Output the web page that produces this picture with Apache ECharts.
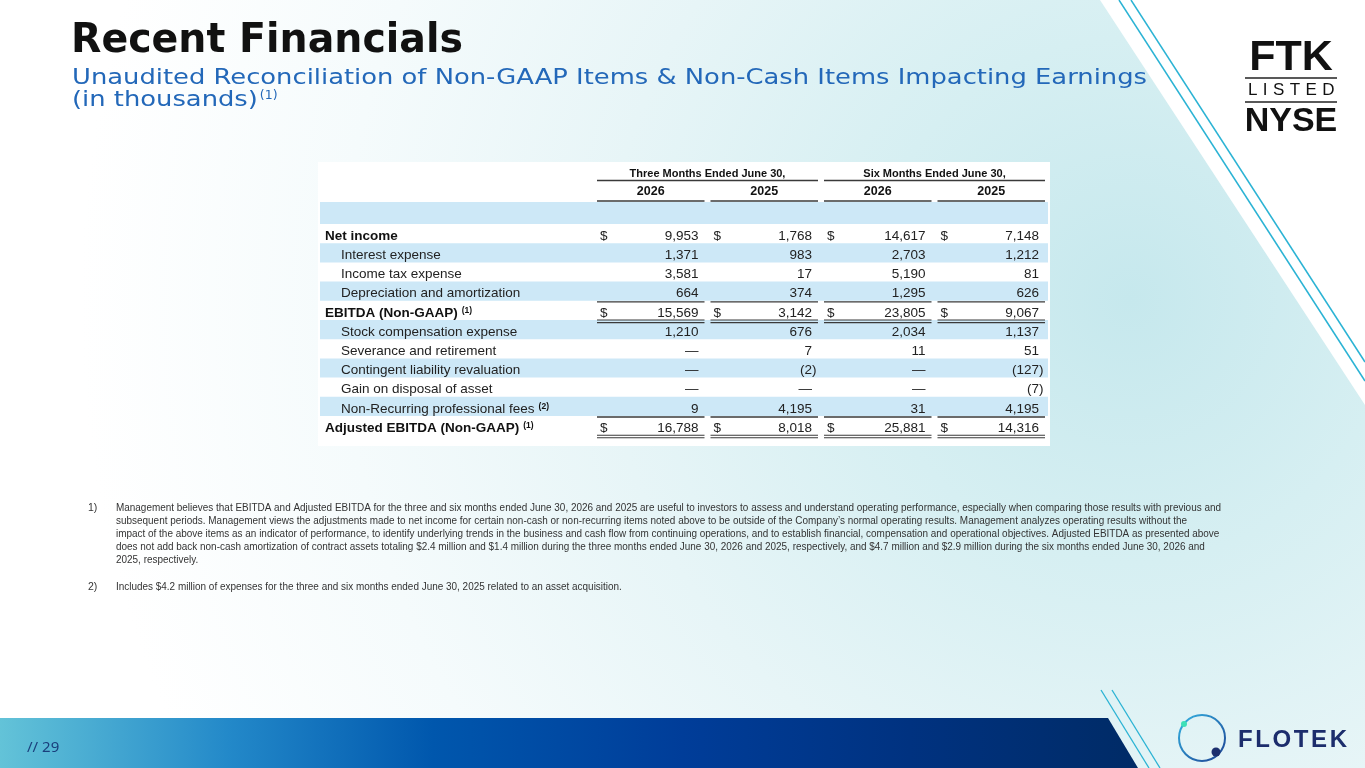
<!DOCTYPE html>
<html>
<head>
<meta charset="UTF-8">
<title>Recent Financials</title>
<script src="https://cdn.jsdelivr.net/npm/echarts@6/dist/echarts.min.js"></script>
<style>
html,body{margin:0;padding:0;background:#fff;overflow:hidden;}
#main{width:1365px;height:768px;}
</style>
</head>
<body>
<div id="main"></div>
<script>
// table rows and values (in thousands)
var rowNames = ['Net income', 'Interest expense', 'Income tax expense', 'Depreciation and amortization',
	'EBITDA (Non-GAAP)', 'Stock compensation expense', 'Severance and retirement',
	'Contingent liability revaluation', 'Gain on disposal of asset', 'Non-Recurring professional fees',
	'Adjusted EBITDA (Non-GAAP)'];
var rowNotes = ['', '', '', '', '(1)', '', '', '', '', '(2)', '(1)'];
var periods = ['Three Months Ended June 30,', 'Six Months Ended June 30,'];
var columns = ['2026', '2025', '2026', '2025'];
var threeMonths2026 = [9953, 1371, 3581, 664, 15569, 1210, null, null, null, 9, 16788];
var threeMonths2025 = [1768, 983, 17, 374, 3142, 676, 7, -2, null, 4195, 8018];
var sixMonths2026 = [14617, 2703, 5190, 1295, 23805, 2034, 11, null, null, 31, 25881];
var sixMonths2025 = [7148, 1212, 81, 626, 9067, 1137, 51, -127, -7, 4195, 14316];
var totalRows = [0, 4, 10];
var singleRuleRows = [3, 9];
var doubleRuleRows = [4, 10];

var notes1 = [
	'Management believes that EBITDA and Adjusted EBITDA for the three and six months ended June 30, 2026 and 2025 are useful to investors to assess and understand operating performance, especially when comparing those results with previous and',
	'subsequent periods. Management views the adjustments made to net income for certain non-cash or non-recurring items noted above to be outside of the Company\u2019s normal operating results. Management analyzes operating results without the',
	'impact of the above items as an indicator of performance, to identify underlying trends in the business and cash flow from continuing operations, and to establish financial, compensation and operational objectives. Adjusted EBITDA as presented above',
	'does not add back non-cash amortization of contract assets totaling $2.4 million and $1.4 million during the three months ended June 30, 2026 and 2025, respectively, and $4.7 million and $2.9 million during the six months ended June 30, 2026 and',
	'2025, respectively.'
];
var notes2 = 'Includes $4.2 million of expenses for the three and six months ended June 30, 2025 related to an asset acquisition.';
var title = 'Recent Financials';
var subtitle = 'Unaudited Reconciliation of Non-GAAP Items & Non-Cash Items Impacting Earnings';

var valueCols = [threeMonths2026, threeMonths2025, sixMonths2026, sixMonths2025];

// layout
var tableLeft = 320, tableRight = 1048, colStart = 594, gridTop = 224, rowPitch = 19.2;
var gridH = rowNames.length * rowPitch;
var ruleColor = '#3a3a3a';
var band = '#cde8f7';
var tableFont = '"Liberation Sans", Arial, sans-serif';
var headFam = '"DejaVu Sans", sans-serif';
var noteFam = '"Liberation Sans", sans-serif';

var ctx = document.createElement('canvas').getContext('2d');
function textW(text, font) {
	ctx.font = font;
	return ctx.measureText(text).width;
}
// text squeezed or stretched to a given width
function fitted(text, x, y, font, width, color) {
	return {type: 'text', z: 5, x: x, y: y, scaleX: width / textW(text, font),
		style: {text: text, x: 0, y: 0, font: font, fill: color, verticalAlign: 'middle'}};
}
function spaced(text, x, y, font, gap, color) {
	var out = [];
	for (var i = 0; i < text.length; i++) {
		out.push({type: 'text', z: 5, style: {text: text[i], x: x, y: y, font: font, fill: color, verticalAlign: 'middle'}});
		x += textW(text[i], font) + gap;
	}
	return out;
}

var titleFont = 'bold 41px ' + headFam;
var subFont = '21px ' + headFam;
var subScale = 1075 / textW(subtitle, subFont);
var thouW = textW('(in thousands)', subFont) * subScale;
var noteFont = '10.5px ' + noteFam;
var noteScale = 1105 / textW(notes1[0], noteFont);

var fmt = function(v) {
	if (v === null) return '\u2014';
	var s = Math.abs(v).toLocaleString('en-US');
	return v < 0 ? '(' + s + ')' : s;
};

var decor = [
	{type: 'rect', z: -100, shape: {x: 0, y: 0, width: 1365, height: 768},
		style: {fill: {type: 'radial', x: 1130, y: 300, r: 1050, global: true,
			colorStops: [{offset: 0, color: '#c6e8ed'}, {offset: 0.25, color: '#d6eff2'}, {offset: 0.5, color: '#e7f5f7'},
				{offset: 0.75, color: '#f5fbfc'}, {offset: 1, color: '#ffffff'}]}}},
	{type: 'polygon', z: -99, shape: {points: [[1100, 0], [1365, 0], [1365, 405]]}, style: {fill: '#ffffff'}},
	{type: 'line', z: -98, shape: {x1: 1119, y1: 0, x2: 1365, y2: 381}, style: {stroke: '#2bb3d4', lineWidth: 1.5}},
	{type: 'line', z: -98, shape: {x1: 1131, y1: 0, x2: 1365, y2: 362}, style: {stroke: '#2bb3d4', lineWidth: 1.5}},
	// footer bar
	{type: 'polygon', z: -97, shape: {points: [[0, 718], [1108, 718], [1138, 768], [0, 768]]},
		style: {fill: {type: 'linear', x: 0, y: 0, x2: 1, y2: 0,
			colorStops: [{offset: 0, color: '#63c3d8'}, {offset: 0.2, color: '#2389c9'}, {offset: 0.38, color: '#0057ad'},
				{offset: 0.6, color: '#003d99'}, {offset: 0.8, color: '#003280'}, {offset: 1, color: '#002b66'}]}}},
	{type: 'line', z: -96, shape: {x1: 1101, y1: 690, x2: 1149, y2: 768}, style: {stroke: '#2bb3d4', lineWidth: 1.3}},
	{type: 'line', z: -96, shape: {x1: 1112, y1: 690, x2: 1160, y2: 768}, style: {stroke: '#2bb3d4', lineWidth: 1.3}},
	{type: 'text', z: 5, style: {text: '// 29', x: 27, y: 748, font: '15px "Noto Sans", sans-serif', fill: '#1a3f7c', verticalAlign: 'middle'}},
	// FLOTEK logo
	{type: 'circle', z: 5, shape: {cx: 1202, cy: 738, r: 23},
		style: {fill: 'none', lineWidth: 2, stroke: {type: 'linear', x: 0, y: 0, x2: 1, y2: 1,
			colorStops: [{offset: 0, color: '#36b9e6'}, {offset: 1, color: '#1b3c8f'}]}}},
	{type: 'circle', z: 6, shape: {cx: 1184, cy: 724, r: 3}, style: {fill: '#3fe0b8'}},
	{type: 'circle', z: 6, shape: {cx: 1216, cy: 752, r: 4.5}, style: {fill: '#1c2f6e'}},
	// FTK listed NYSE
	{type: 'text', z: 5, style: {text: 'FTK', x: 1291, y: 58, font: 'bold 43px ' + tableFont, fill: '#111', align: 'center', verticalAlign: 'middle'}},
	{type: 'line', z: 5, shape: {x1: 1245, y1: 78, x2: 1337, y2: 78}, style: {stroke: '#222', lineWidth: 1.5}},
	{type: 'line', z: 5, shape: {x1: 1245, y1: 102, x2: 1337, y2: 102}, style: {stroke: '#222', lineWidth: 1.5}},
	{type: 'text', z: 5, style: {text: 'NYSE', x: 1291, y: 122, font: 'bold 34px ' + tableFont, fill: '#111', align: 'center', verticalAlign: 'middle'}},
	// titles
	fitted(title, 71, 41, titleFont, 392, '#111'),
	fitted(subtitle, 72, 79, subFont, 1075, '#2368b9'),
	fitted('(in thousands)', 72, 101, subFont, thouW, '#2368b9'),
	{type: 'text', z: 5, style: {text: '(1)', x: 74 + thouW, y: 96, font: '12.5px ' + headFam, fill: '#2368b9', verticalAlign: 'middle'}},
	// table background and blank shaded row
	{type: 'rect', z: -90, shape: {x: tableLeft - 2, y: 162, width: tableRight - tableLeft + 4, height: 284}, style: {fill: '#ffffff'}},
	{type: 'rect', z: -89, shape: {x: tableLeft, y: gridTop - 22, width: tableRight - tableLeft, height: 22}, style: {fill: band}}
];
decor = decor.concat(spaced('LISTED', 1248, 90, '17px ' + tableFont, 5.4, '#111'));
decor = decor.concat(spaced('FLOTEK', 1238, 740, 'bold 24px ' + tableFont, 2.6, '#1c2d6c'));

// footnotes
decor.push({type: 'text', z: 5, style: {text: '1)', x: 88, y: 508, font: noteFont, fill: '#333', verticalAlign: 'middle'}});
for (var i = 0; i < notes1.length; i++) {
	decor.push(fitted(notes1[i], 116, 508 + i * 13, noteFont, textW(notes1[i], noteFont) * noteScale, '#333'));
}
decor.push({type: 'text', z: 5, style: {text: '2)', x: 88, y: 587, font: noteFont, fill: '#333', verticalAlign: 'middle'}});
decor.push(fitted(notes2, 116, 587, noteFont, textW(notes2, noteFont) * noteScale, '#333'));

var cells = [];
for (var c = 0; c < columns.length; c++) {
	for (var r = 0; r < rowNames.length; r++) {
		cells.push([c, r]);
	}
}

function renderCell(params, api) {
	var c = api.value(0), r = api.value(1);
	var v = valueCols[c][r];
	var pt = api.coord([c, r]);
	var sz = api.size([1, 1]);
	var left = pt[0] - sz[0] / 2, right = pt[0] + sz[0] / 2;
	var ty = pt[1] + 2.5;
	var bottom = pt[1] + sz[1] / 2;
	var kids = [{type: 'text', style: {text: fmt(v), x: v !== null && v < 0 ? right - 4.5 : right - 9, y: ty,
		align: 'right', verticalAlign: 'middle', font: '13.5px ' + tableFont, fill: '#222'}}];
	if (totalRows.indexOf(r) >= 0) {
		kids.push({type: 'text', style: {text: '$', x: left + 6, y: ty, align: 'left', verticalAlign: 'middle', font: '13.5px ' + tableFont, fill: '#222'}});
	}
	if (singleRuleRows.indexOf(r) >= 0) {
		kids.push({type: 'line', shape: {x1: left + 3, y1: bottom + 1, x2: right - 3, y2: bottom + 1}, style: {stroke: ruleColor, lineWidth: 1.3}});
	}
	if (doubleRuleRows.indexOf(r) >= 0) {
		kids.push({type: 'line', shape: {x1: left + 3, y1: bottom, x2: right - 3, y2: bottom}, style: {stroke: ruleColor, lineWidth: 1.1}});
		kids.push({type: 'line', shape: {x1: left + 3, y1: bottom + 2.6, x2: right - 3, y2: bottom + 2.6}, style: {stroke: ruleColor, lineWidth: 1.1}});
	}
	return {type: 'group', children: kids};
}

function renderHeader(params, api) {
	var g = params.dataIndex;
	var p0 = api.coord([g * 2, 0]), p1 = api.coord([g * 2 + 1, 0]);
	var w = api.size([1, 1])[0];
	var top = params.coordSys.y;
	var l = p0[0] - w / 2 + 3, r = p1[0] + w / 2 - 3;
	var line = function(x1, x2, y) {
		return {type: 'line', shape: {x1: x1, y1: y, x2: x2, y2: y}, style: {stroke: ruleColor, lineWidth: 1.3}};
	};
	return {type: 'group', children: [
		{type: 'text', style: {text: periods[g], x: (p0[0] + p1[0]) / 2, y: top - 50, align: 'center', verticalAlign: 'middle',
			font: 'bold 11px ' + tableFont, fill: '#111'}},
		line(l, r, top - 43.5),
		line(l, p0[0] + w / 2 - 3, top - 23),
		line(p1[0] - w / 2 + 3, r, top - 23)
	]};
}

var chart = echarts.init(document.getElementById('main'));
chart.setOption({
	animation: false,
	backgroundColor: 'transparent',
	graphic: {elements: decor},
	grid: [
		{left: tableLeft, width: tableRight - tableLeft, top: gridTop, height: gridH},
		{left: colStart, width: tableRight - colStart, top: gridTop, height: gridH}
	],
	xAxis: [
		{type: 'category', gridIndex: 0, data: [''], show: false},
		{type: 'category', gridIndex: 1, data: columns, position: 'top',
			axisLine: {show: false}, axisTick: {show: false},
			axisLabel: {interval: 0, margin: 32, verticalAlign: 'middle', fontWeight: 'bold', fontSize: 12.5,
				fontFamily: 'Liberation Sans', color: '#111'}}
	],
	yAxis: [
		{type: 'category', gridIndex: 0, data: rowNames, inverse: true,
			axisLine: {show: false}, axisTick: {show: false},
			splitArea: {show: true, interval: 0, areaStyle: {color: ['rgba(0,0,0,0)', band]}},
			axisLabel: {
				interval: 0, inside: true, margin: 5, align: 'left', padding: [5, 0, 0, 0],
				formatter: function(value, index) {
					var s = totalRows.indexOf(index) >= 0 ? '{b|' + value + '}' : '{n|' + value + '}';
					if (rowNotes[index]) s += '{s|' + rowNotes[index] + '}';
					return s;
				},
				rich: {
					b: {fontWeight: 'bold', fontSize: 13.5, fontFamily: 'Liberation Sans', color: '#111'},
					n: {fontSize: 13.5, fontFamily: 'Liberation Sans', color: '#222', padding: [0, 0, 0, 16]},
					s: {fontSize: 8.5, fontWeight: 'bold', fontFamily: 'Liberation Sans', color: '#111', verticalAlign: 'top', padding: [0, 0, 0, 4]}
				}
			}},
		{type: 'category', gridIndex: 1, data: rowNames, inverse: true, show: false}
	],
	series: [
		{type: 'custom', xAxisIndex: 1, yAxisIndex: 1, data: cells, renderItem: renderCell, clip: false, silent: true},
		{type: 'custom', xAxisIndex: 1, yAxisIndex: 1, data: [[0, 0], [2, 0]], renderItem: renderHeader, clip: false, silent: true}
	]
});
</script>
</body>
</html>
